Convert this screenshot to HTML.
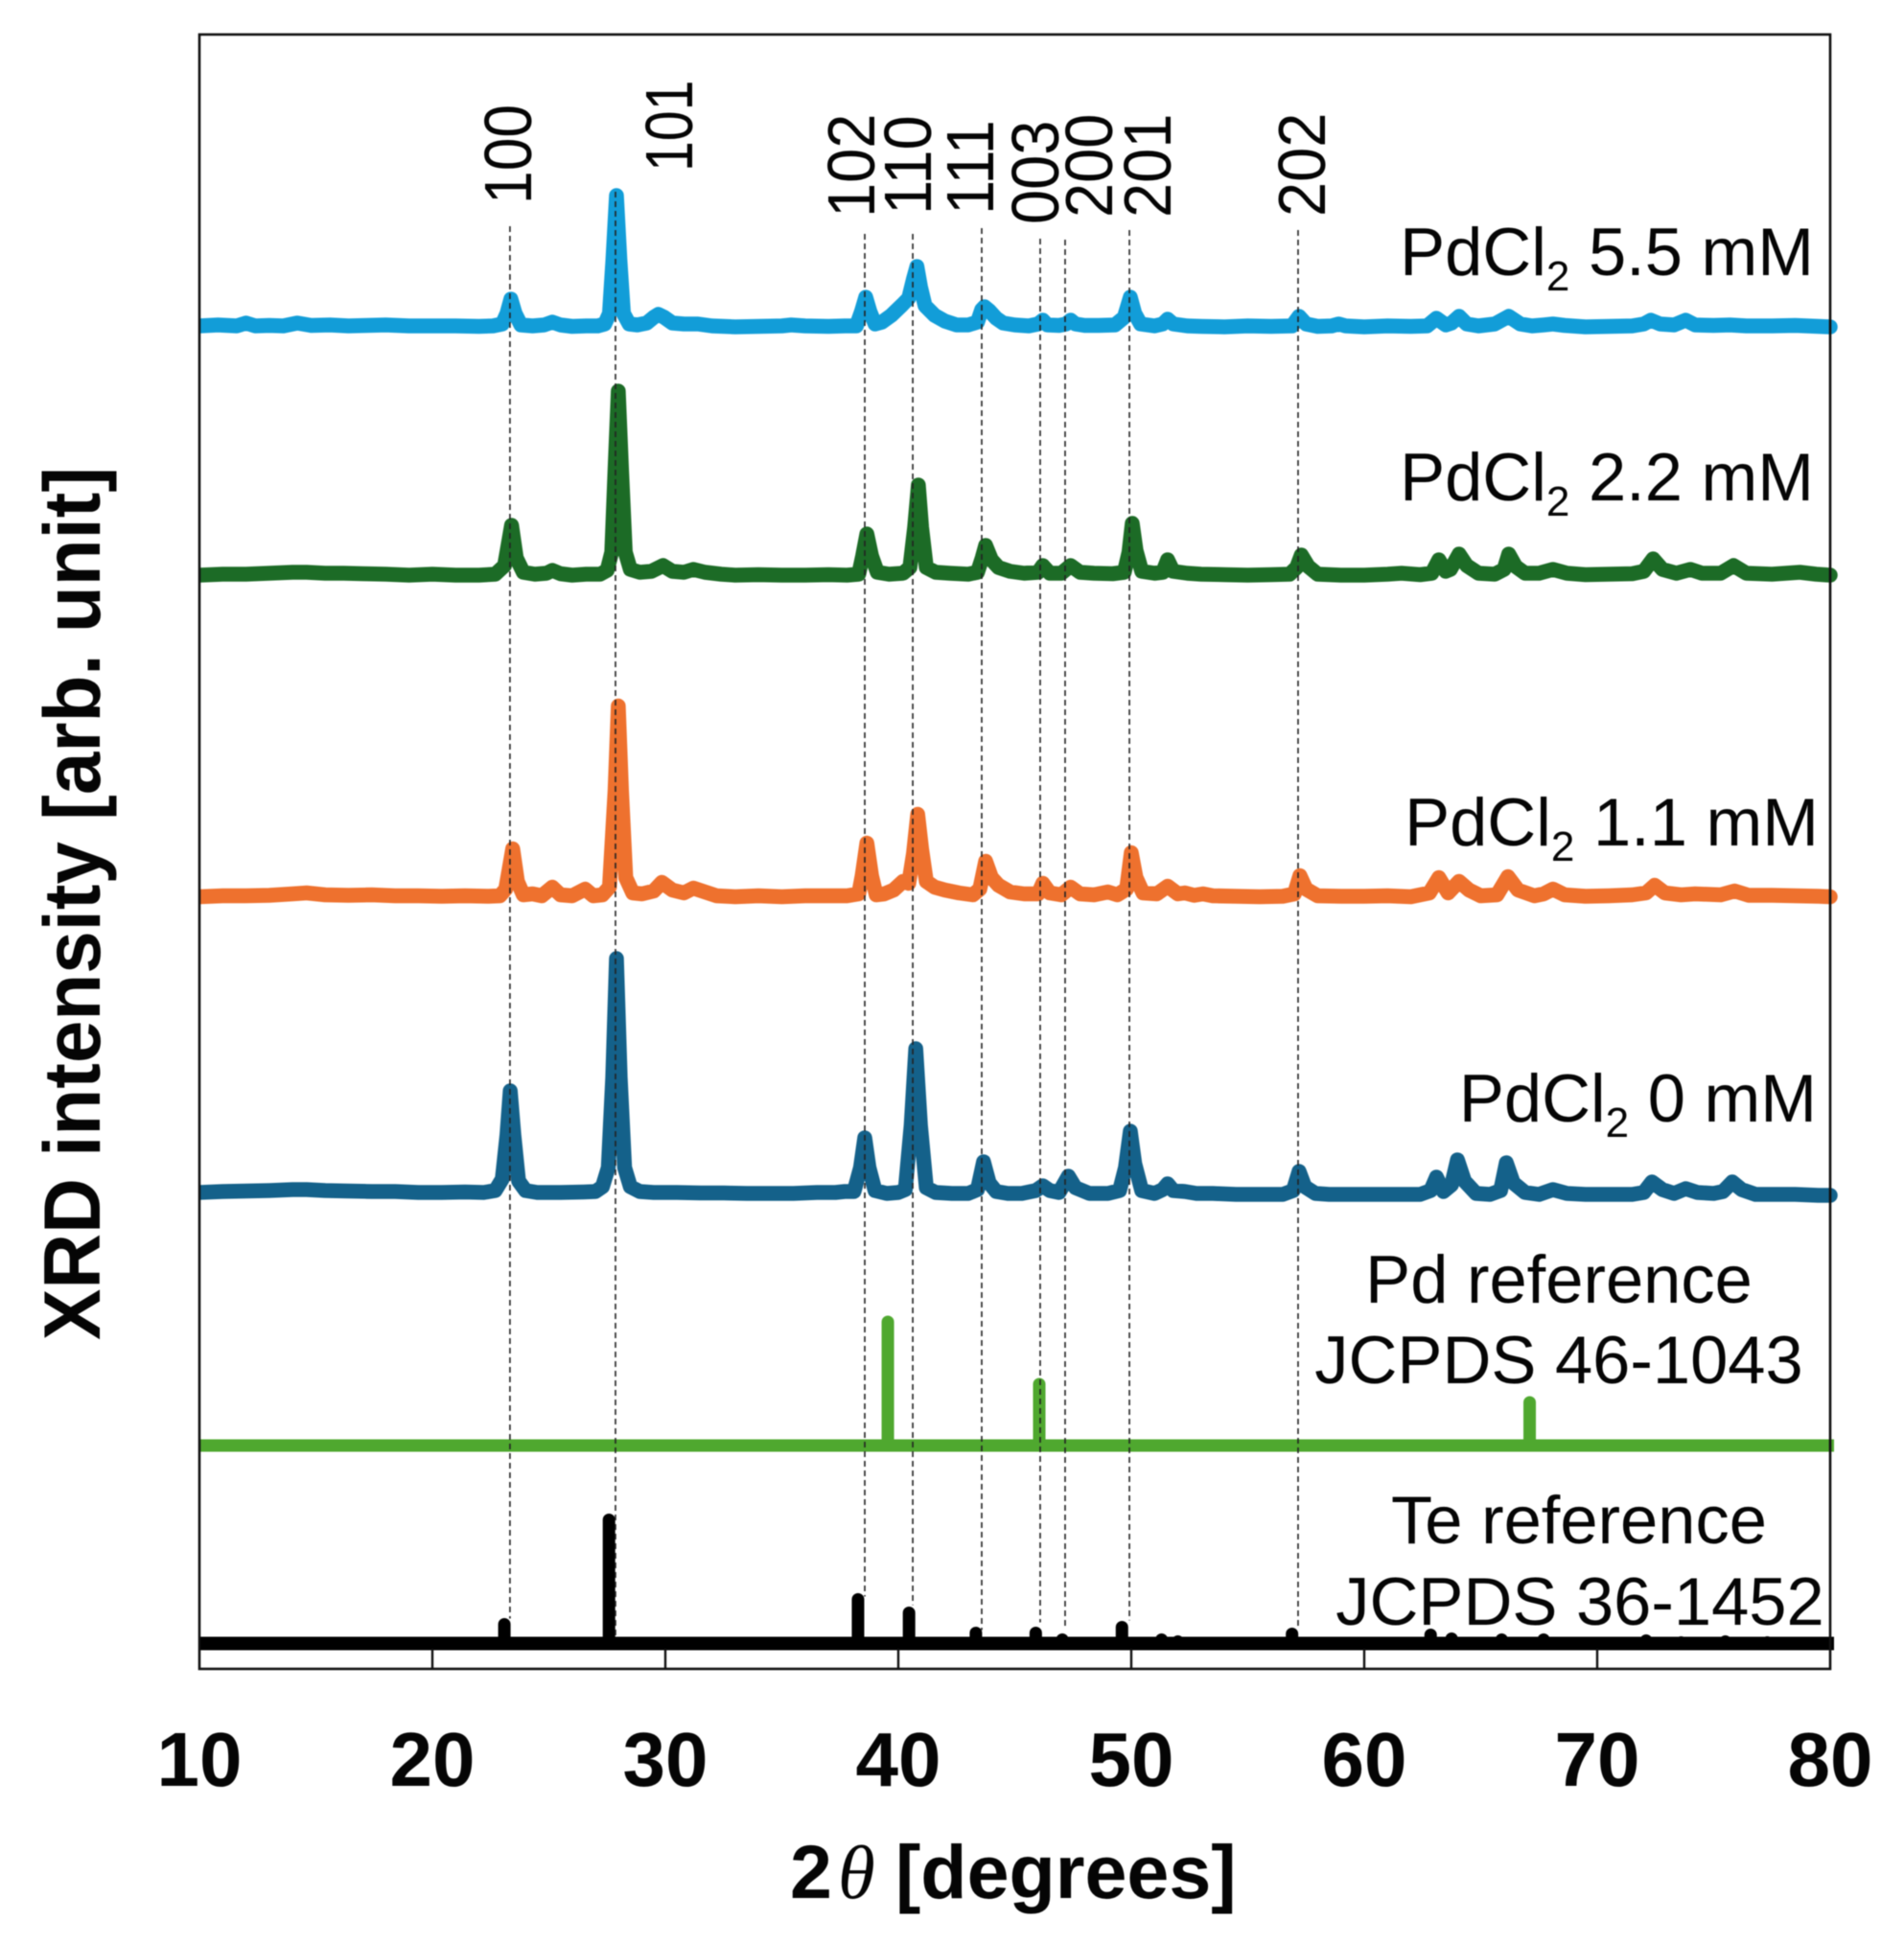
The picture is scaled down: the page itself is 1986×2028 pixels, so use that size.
<!DOCTYPE html>
<html>
<head>
<meta charset="utf-8">
<title>XRD patterns</title>
<style>
html,body{margin:0;padding:0;background:#fff;}
#chart{display:block;width:1986px;height:2028px;filter:blur(0.6px);}
text{font-family:"Liberation Sans",sans-serif;fill:#050505;}
.note{font-size:70.5px;}
.hkl{font-size:65px;}
.tick{font-size:80px;font-weight:bold;text-anchor:middle;}
</style>
</head>
<body>
<svg id="chart" xmlns="http://www.w3.org/2000/svg" width="1986" height="2028" viewBox="0 0 1986 2028">
<defs><clipPath id="plot-clip"><rect x="208" y="0" width="1778" height="2028"/></clipPath></defs>
<rect x="0" y="0" width="1986" height="2028" fill="#fff"/>
<g id="series-layer" clip-path="url(#plot-clip)"></g>
<g id="guide-layer"></g>
<g id="axis-layer"></g>

<text class="hkl" transform="translate(554,213) rotate(-90) scale(0.96,1.07)">100</text>
<text class="hkl" transform="translate(722,179) rotate(-90) scale(0.88,1.07)">101</text>
<text class="hkl" transform="translate(912,227) rotate(-90) scale(1,1.07)">102</text>
<text class="hkl" transform="translate(971,224) rotate(-90) scale(1,1.07)">110</text>
<text class="hkl" transform="translate(1036,224) rotate(-90) scale(1,1.07)">111</text>
<text class="hkl" transform="translate(1104,234) rotate(-90) scale(1,1.07)">003</text>
<text class="hkl" transform="translate(1160,227) rotate(-90) scale(1,1.07)">200</text>
<text class="hkl" transform="translate(1221,227) rotate(-90) scale(1,1.07)">201</text>
<text class="hkl" transform="translate(1382,226) rotate(-90) scale(1,1.07)">202</text>

<text class="note" x="1892" y="287" text-anchor="end">PdCl<tspan font-size="44" dy="16">2</tspan><tspan dy="-16"> 5.5 mM</tspan></text>
<text class="note" x="1892" y="522" text-anchor="end">PdCl<tspan font-size="44" dy="16">2</tspan><tspan dy="-16"> 2.2 mM</tspan></text>
<text class="note" x="1897" y="882" text-anchor="end">PdCl<tspan font-size="44" dy="16">2</tspan><tspan dy="-16"> 1.1 mM</tspan></text>
<text class="note" x="1895" y="1170" text-anchor="end">PdCl<tspan font-size="44" dy="16">2</tspan><tspan dy="-16"> 0 mM</tspan></text>
<text class="note" x="1626" y="1359" text-anchor="middle">Pd reference</text>
<text class="note" x="1626" y="1443" text-anchor="middle">JCPDS 46-1043</text>
<text class="note" x="1647" y="1610" text-anchor="middle">Te reference</text>
<text class="note" x="1648" y="1695" text-anchor="middle">JCPDS 36-1452</text>

<text font-size="80" font-weight="bold" transform="translate(104,1398) rotate(-90) scale(1,1.04)">XRD intensity [arb. unit]</text>
<text font-size="79" font-weight="bold" y="1980"><tspan x="824">2</tspan><tspan x="874" style="font-family:'Liberation Serif',serif;font-style:italic;font-weight:normal">θ</tspan><tspan x="934">[degrees]</tspan></text>

<rect x="208" y="36" width="1701" height="1705" fill="none" stroke="#111" stroke-width="2.6"/>
</svg>
<script>
const xTickValues = [10,20,30,40,50,60,70,80];
const guidePositions = [23.33,27.86,38.56,40.62,43.58,46.09,47.16,49.92,57.16];
const guideIntensityTop = [1505,1541,1497,1497,1503,1492,1491,1501,1501];
const guideIntensityBottom = [26,5,49,40,14,22,18,24,18];

const blueTheta = [
10,10.8,11.6,12,12.4,13,13.6,14.2,14.8,15.6,
16.4,17.2,18,19,20,21,22,22.6,23,23.2,
23.37,23.55,23.8,24.3,24.8,25.15,25.5,26,26.6,27.1,
27.4,27.6,27.75,27.9,28.05,28.2,28.45,28.8,29.2,29.5,
29.7,29.95,30.3,30.8,31.4,32,33,34,35,35.4,
36,37,37.7,38.2,38.42,38.6,38.78,39,39.3,39.7,
40.17,40.45,40.65,40.8,40.95,41.15,41.56,42,42.5,43,
43.4,43.58,43.7,43.9,44.2,44.5,45,45.6,46,46.2,
46.4,46.9,47.2,47.4,47.6,48,48.6,49.3,49.7,49.96,
50.15,50.4,51,51.35,51.56,51.8,52.4,53,54,55,
56,56.9,57.2,57.5,58,58.6,58.9,59.2,60,61,
62,62.7,63.1,63.5,63.75,64.07,64.4,64.9,65.6,66.2,
66.7,67.2,67.7,68.1,68.6,69.5,70.5,71.5,72,72.3,
72.7,73.3,73.8,74.2,75,75.7,76.4,77.5,78.5,79.5,
80];
const blueIntensity = [
1,2,1,4,1,1.5,1,4,1.5,2,
1,1.5,2,1,1,1,0.5,1,3,14,
29,14,2,1,2,5,2,0.5,1,1,
3,14,70,137,70,14,3,2,4,10,
13,10,4,3,3,1,0,0.5,1,2,
1,0.5,1,1,16,31,16,3,5,12,
23,30,50,63,42,22,12,6,2,2,
5,18,21,17,9,4,2,1,3,7,
2,1.5,3,7,3,1.5,1.5,2,10,31,
14,3,1,3,8,3,1,0.5,0,1,
0.5,1,11,3,0.5,1,3,1,0,1,
0.5,1,9,2,4,11,3,1,3,11,
3,1,2,3,1.5,0,0.5,1,3,7,
3,2,7,2,1.5,2,1,1,1.5,0.5,
0];

const greenTheta = [
10,11,12,13,14,14.6,15.4,16.2,17,18,
19,20,21,22,22.7,23.1,23.4,23.6,23.9,24.4,
24.9,25.15,25.5,26,26.6,27.2,27.5,27.7,27.84,27.98,
28.12,28.28,28.5,28.9,29.4,29.9,30.3,30.8,31.2,31.7,
32.4,33,34,35,36,37,37.8,38.3,38.47,38.65,
38.85,39.1,39.6,40.2,40.5,40.7,40.86,41,41.2,41.6,
42.2,43,43.4,43.6,43.75,44,44.3,44.8,45.4,46,
46.2,46.5,47,47.4,47.8,48.4,49.2,49.7,49.9,50.04,
50.2,50.45,51,51.35,51.56,51.8,52.4,53,54,55,
56,56.8,57.1,57.3,57.6,58,59,60,61,61.6,
62.4,62.9,63.2,63.5,63.7,64.07,64.4,64.9,65.6,66,
66.2,66.5,66.9,67.5,68.1,68.7,69.5,70.5,71.5,72,
72.4,72.8,73.4,74,74.5,75.3,75.85,76.4,77.5,78.7,
79.4,80];
const greenIntensity = [
0,1,1,2,3,3,2,2,1.5,1,
0,1,0,0,1,10,52,18,3,1,
2,5,1.5,0,1,1,5,24,110,192,
110,24,6,3,4,10,4,3,6,3,
1,0,0.5,0,0,0.5,0,1,20,43,
20,3,1,2,8,50,94,50,8,3,
2,1,3,18,31,16,8,4,2,3,
10,2,2,10,3,2,1.5,3,24,54,
26,4,2,3,16,4,2,1,0.5,0,
0.5,1,8,21,9,1,0,0,1,2,
0.5,2,16,4,6,22,10,2,1,6,
22,9,2,2,6,2,0.5,1,1.5,4,
17,6,2,6,2,2,10,2,1,3,
1,0];

const orangeTheta = [
10,11,12,13,14,14.6,15.4,16.4,17.4,18.4,
19.4,20.4,21.4,22.4,22.9,23.15,23.45,23.65,23.9,24.3,
24.7,25.15,25.5,26,26.56,26.9,27.3,27.6,27.84,27.98,
28.12,28.3,28.6,29,29.5,29.85,30.3,30.8,31.2,31.7,
32.2,33,34,35,36,37,37.8,38.3,38.45,38.65,
38.85,39.05,39.4,39.8,40.2,40.45,40.65,40.83,41,41.2,
41.56,42,42.6,43.2,43.5,43.75,44,44.3,44.8,45.4,
46,46.2,46.5,47,47.4,47.8,48.4,49,49.4,49.8,
50,50.2,50.5,51.1,51.56,52,52.3,52.7,53.08,53.5,
54.5,55.5,56.5,57,57.24,57.5,58,59,60,61,
62,62.8,63.2,63.6,64.07,64.5,65,65.7,66.17,66.6,
67.3,67.7,68.1,68.6,69.5,70.5,71.5,72.1,72.47,72.9,
73.6,74.2,75.3,75.9,76.5,77.5,78.5,79.5,80];
const orangeIntensity = [
0,1,1,1.5,3,4,2,1.5,2,1,
1,0.5,1,0.5,1,8,50,16,2,3,
1,10,2,1,8,1,2,10,110,199,
110,20,4,3,6,15,7,4,9,5,
1,0,1,0,1,1,1,3,22,56,
22,2,3,7,16,14,45,86,50,16,
10,7,4,2,8,37,20,12,5,3,
3,14,4,2,10,3,2,5,2,8,
46,20,4,3,11,3,4,1.5,3,1,
0.5,0,0.5,3,22,8,1,0.5,0.5,1,
0,4,20,4,16,7,1,2,21,7,
1,3,8,2,0.5,1,2,4,12,4,
2,3,2,6,1.5,1.5,1,0.5,0];

const navyTheta = [
10,11,12,13,14,14.6,15.4,16.4,17.4,18.4,
19.4,20.4,21.4,22.2,22.7,23,23.2,23.34,23.5,23.7,
24,24.5,25.5,26.5,27,27.3,27.55,27.74,27.9,28.06,
28.25,28.5,28.9,29.5,30.5,31.5,32.5,33.5,34.5,35.5,
36.5,37.3,37.7,38.1,38.38,38.56,38.74,39,39.5,40,
40.3,40.55,40.75,40.95,41.2,41.6,42.3,43,43.4,43.66,
43.9,44.2,44.7,45.3,45.9,46.2,46.5,46.9,47.3,47.6,
48.2,49,49.5,49.75,49.96,50.15,50.45,51,51.35,51.56,
51.8,52.3,52.8,53.5,54.5,55.5,56.5,56.95,57.2,57.45,
57.9,58.5,59.5,60.5,61.5,62.4,62.85,63.1,63.4,63.75,
64,64.3,64.8,65.4,65.85,66.1,66.4,66.9,67.5,68.1,
68.7,69.5,70.5,71.5,72,72.35,72.8,73.3,73.8,74.3,
75,75.4,75.8,76.2,76.8,77.5,78.5,79.5,80];
const navyIntensity = [
0,1,1.5,2,3,3,2,1.5,1,1,
0,0,0.5,0,2,14,60,106,60,12,
2,0,0,0.5,1,6,26,120,244,120,
26,6,1,0,0,-0.5,-0.5,-1,-1,-1,
0,0,1,1,26,57,26,2,-1,0,
3,70,150,70,5,0,-1,-1,3,32,
10,1,-1,-1,2,7,2,0,17,5,
-1,-1,2,26,64,30,2,-1,3,9,
2,1,-1,-1,-2,-2,-2,2,22,6,
-1,-2,-2,-2,-2,-2,2,16,1,8,
34,12,-1,-2,2,31,10,0,-2,3,
-1,-2,-2,-2,0,11,3,-1,4,0,
-1,1,11,3,-2,-2,-2,-3,-3];

const pdTheta = [39.55,46.05,67.1];
const pdIntensity = [129,64,45];
const teTheta = [23.09,27.58,38.27,40.46,43.33,45.9,47.04,49.6,51.3,52,56.9,62.85,63.75,65.9,67.7,72.1,73.6,75.5,77.3];
const teIntensity = [20,129,46,32,11,11,4,17,4,2,10,9,5,4,4,3,1,2,1];

const svgNS = 'http://www.w3.org/2000/svg';
function xScale(theta){ return 208 + (theta - 10) * 1701 / 70; }
function yScale(offset, intensity){ return offset - intensity; }
const seriesLayer = document.getElementById('series-layer');
const guideLayer = document.getElementById('guide-layer');
const axisLayer = document.getElementById('axis-layer');

function drawPattern(thetas, values, offset, colour, name){
  const line = document.createElementNS(svgNS, 'polyline');
  let pts = '';
  for (let i = 0; i < thetas.length; i++) {
    pts += xScale(thetas[i]).toFixed(1) + ',' + yScale(offset, values[i]).toFixed(1) + ' ';
  }
  line.setAttribute('points', pts);
  line.setAttribute('fill', 'none');
  line.setAttribute('stroke', colour);
  line.setAttribute('stroke-width', '15.5');
  line.setAttribute('stroke-linejoin', 'round');
  line.setAttribute('stroke-linecap', 'round');
  
  
  seriesLayer.appendChild(line);
}
function drawSticks(thetas, values, offset, colour, width, baseWidth, name){
  const base = document.createElementNS(svgNS, 'line');
  base.setAttribute('x1', xScale(10));
  base.setAttribute('x2', xScale(80) + 4);
  base.setAttribute('y1', offset);
  base.setAttribute('y2', offset);
  base.setAttribute('stroke', colour);
  base.setAttribute('stroke-width', baseWidth);
  
  
  seriesLayer.appendChild(base);
  for (let i = 0; i < thetas.length; i++) {
    const stick = document.createElementNS(svgNS, 'line');
    stick.setAttribute('x1', xScale(thetas[i]));
    stick.setAttribute('x2', xScale(thetas[i]));
    stick.setAttribute('y1', offset);
    stick.setAttribute('y2', yScale(offset, values[i]));
    stick.setAttribute('stroke', colour);
    stick.setAttribute('stroke-width', width);
    stick.setAttribute('stroke-linecap', 'round');
    
    
    seriesLayer.appendChild(stick);
  }
}
drawPattern(blueTheta, blueIntensity, 341, '#129dd8', 'series-pdcl2-5-5');
drawPattern(greenTheta, greenIntensity, 600, '#1c6b26', 'series-pdcl2-2-2');
drawPattern(orangeTheta, orangeIntensity, 935.5, '#ee712e', 'series-pdcl2-1-1');
drawPattern(navyTheta, navyIntensity, 1244, '#14618a', 'series-pdcl2-0');
drawSticks(pdTheta, pdIntensity, 1508, '#4fa82f', 13, 13, 'series-pd-reference');
drawSticks(teTheta, teIntensity, 1714.5, '#000000', 13, 14, 'series-te-reference');

for (let i = 0; i < guidePositions.length; i++) {
  const guide = document.createElementNS(svgNS, 'line');
  guide.setAttribute('x1', xScale(guidePositions[i]));
  guide.setAttribute('x2', xScale(guidePositions[i]));
  guide.setAttribute('y1', 1741 - guideIntensityTop[i]);
  guide.setAttribute('y2', 1714.5 - guideIntensityBottom[i]);
  guide.setAttribute('stroke', '#222');
  guide.setAttribute('stroke-width', '1.6');
  guide.setAttribute('stroke-dasharray', '6 4');
  
  
  guideLayer.appendChild(guide);
}

for (let i = 0; i < xTickValues.length; i++) {
  const v = xTickValues[i];
  if (v > 10 && v < 80) {
    const tick = document.createElementNS(svgNS, 'line');
    tick.setAttribute('x1', xScale(v));
    tick.setAttribute('x2', xScale(v));
    tick.setAttribute('y1', 1720);
    tick.setAttribute('y2', 1741);
    tick.setAttribute('stroke', '#111');
    tick.setAttribute('stroke-width', '2.4');
    
    
    axisLayer.appendChild(tick);
  }
  const label = document.createElementNS(svgNS, 'text');
  label.setAttribute('class', 'tick');
  label.setAttribute('x', xScale(v));
  label.setAttribute('y', 1863);
  
  
  label.textContent = v;
  axisLayer.appendChild(label);
}
</script>
</body>
</html>
